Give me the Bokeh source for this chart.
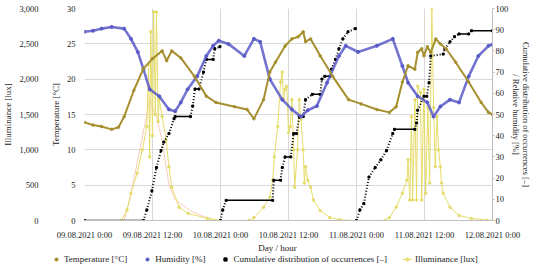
import numpy as np
from bokeh.plotting import figure
from bokeh.layouts import column
from bokeh.models import Range1d, LinearAxis, FixedTicker, Legend, LegendItem, NumeralTickFormatter, Label
from bokeh.embed import file_html
from bokeh.resources import INLINE

nan = float("nan")

# ---- data (time in hours from 09.08.2021 0:00) ----
x_ticks = [0, 12, 24, 36, 48, 60, 72]
x_tick_labels = ["09.08.2021 0:00", "09.08.2021 12:00", "10.08.2021 0:00", "10.08.2021 12:00",
                 "11.08.2021 0:00", "11.08.2021 12:00", "12.08.2021 0:00"]

temp_t = [0, 1.5, 3, 4.8, 6, 7, 8.7, 10.4, 12, 13.7, 14.5, 15.4, 17, 19.4, 21.5, 23.2, 26.5, 28.7,
          29.9, 31.6, 32.7, 33.7, 35.4, 36.6, 37.7, 38.6, 39, 39.9, 41.6, 43.8, 46.6, 48.8, 51.6,
          53.8, 55, 56.1, 57.1, 58.3, 58.8, 59.5, 59.9, 60.5, 61.1, 62, 62.8, 63.8, 65.5, 67.8,
          70, 71.3, 72]
temp_v = [13.9, 13.5, 13.3, 12.9, 13.2, 14.7, 18.4, 21.5, 22.9, 24.0, 22.6, 24.0, 23.0, 20.4,
          17.6, 16.7, 16.1, 15.7, 14.4, 17.1, 21.0, 22.4, 24.7, 25.7, 26.0, 26.7, 25.3, 25.7,
          23.3, 20.4, 17.1, 16.5, 15.7, 15.3, 16.1, 19.6, 21.9, 21.4, 23.8, 24.3, 23.3, 24.6,
          23.8, 25.7, 25.0, 24.3, 22.4, 19.6, 16.7, 15.3, 15.0]

hum_t = [0, 1.5, 3, 4.8, 7, 8.2, 9.4, 10.4, 11.5, 13.2, 14.9, 16, 17, 18.2, 19.9, 21.5, 22.7,
         23.7, 25.4, 28.2, 29.9, 31, 32.7, 34.9, 36.6, 38.2, 39.4, 41, 42.8, 44.9, 46.1, 48.3,
         51.6, 54.4, 56.1, 57.1, 58.8, 60.5, 61.6, 62.8, 64.5, 66.1, 67.8, 69.5, 71.3, 72]
hum_v = [89, 89.5, 90.5, 91.3, 90.5, 85.7, 79.5, 71.4, 61.9, 58.6, 52.4, 51.5, 55.7, 61.9, 68.1,
         77.6, 82.4, 84.8, 83.3, 77.6, 85.7, 84.3, 66.7, 57, 52.4, 49, 52, 54, 65, 77.6, 82.4,
         79.5, 82.4, 85.7, 72.9, 65, 58.6, 55.7, 49, 53.8, 57, 55.7, 68, 77.6, 82.4, 83]

cum_t = [0, 10.4, 11, 11.9, 12.7, 13.5, 14, 14.9, 15.8, 16, 18.7, 19.1, 19.5, 20.2, 21, 21.5,
         22.7, 23, 23.9, nan,
         24, 24.4, 25, 33.2, 33.4, 34.6, 34.9, 35.4, 36.4, 36.9, 37.4, 37.9, 38.6, 39, 40.2,
         41.6, 41.9, 42.4, 43.3, 43.6, 44.3, 44.9, 45.6, 46.5, 47.8, nan,
         48, 48.6, 49.3, 50.2, 51.3, 52.3, 53.3, 54.4, 54.7, 58.3, 58.6, 58.8, 59.9, 60.4, 60.8,
         61.1, 63.3, 63.6, 64.5, 65.3, 66.1, 67.8, 68.3, 72]
cum_v = [0, 0, 5, 14, 25, 33, 37, 41, 48, 49, 49, 54, 62, 62, 70, 76, 76, 81, 82, nan,
         0, 5, 9.5, 9.5, 19, 19, 25, 30, 30, 41, 41, 49, 49, 57, 59.5, 59.5, 66.7, 68, 68, 71.4,
         76, 81, 85.7, 89, 90.5, nan,
         0, 5, 8, 20.5, 25, 28.6, 33, 41, 43, 43, 46, 52, 58.6, 58.6, 65, 77.6, 78.5, 81, 84.3,
         86.7, 88, 88, 89.5, 89.5]

ill_t = [0, 6.5, 7.5, 8.2, 9.3, 10.2, 11, 11.3, 11.5, 11.7, 12, 12.2, 12.5, 12.7, 13, 13.2,
         13.7, 14.4, 14.9, 15.4, 16.7, 18.3, 21.7, 24,
         29, 29.9, 31.6, 32.7, 33.2, 33.5, 34.1, 34.6, 34.9, 35.1, 35.4, 35.7, 36, 36.3, 36.6,
         36.9, 37.1, 37.6, 37.9, 38.2, 38.6, 38.8, 39, 39.4, 39.9, 40.4, 41.6, 43.3, 45, 48,
         53, 53.8, 55, 56.1, 56.9, 57.1, 57.4, 57.7, 57.9, 58.3, 58.6, 58.8, 59.3, 59.5, 59.9,
         60.2, 60.6, 60.9, 61.3, 61.6, 61.9, 62.2, 62.5, 62.8, 63, 63.3, 64.5, 66.1, 68.3, 71, 72]
ill_v = [0, 0, 150, 386, 671, 1000, 1330, 2200, 900, 2670, 1200, 2950, 1500, 2950, 1400, 1714,
         1470, 1140, 760, 470, 186, 100, 30, 0,
         0, 40, 186, 330, 570, 900, 1330, 1960, 2100, 1710, 1860, 1900, 1240, 1330, 1710, 1000,
         470, 1000, 1710, 1430, 1000, 530, 760, 570, 470, 290, 140, 40, 10, 0,
         0, 40, 190, 386, 570, 860, 290, 1470, 290, 1710, 290, 1900, 1810, 290, 1860, 386,
         1600, 530, 3000, 1600, 760, 1470, 1000, 760, 530, 386, 186, 70, 30, 5, 0]

ill2_t = [7, 8, 9, 10, 11, 11.5, 12.7, 13.7, 14.4, 15, 16, 18.7, 21.5, 23]
ill2_v = [0, 300, 700, 1100, 1500, 1700, 1470, 1140, 760, 470, 290, 140, 40, 0]

legend_labels = ["Temperature [°C]", "Humidity [%]",
                 "Cumulative distribution of occurrences [–]", "Illuminance [lux]"]

FONT = "Liberation Serif"
GRID = "#d9d9d9"
C_TEMP = "#a68f2e"
C_HUM = "#5b5bc8"
C_CUM = "#000000"
C_ILL = "#e6dc6a"

p = figure(width=534, height=242, output_backend="svg", toolbar_location=None,
           x_range=Range1d(0, 72), y_range=Range1d(0, 30),
           min_border_left=63, min_border_right=38, min_border_top=8, min_border_bottom=16)
p.extra_y_ranges = {"ill": Range1d(0, 3000), "pct": Range1d(0, 100)}
p.outline_line_color = None
p.background_fill_color = "white"

# axes
xa = p.xaxis[0]
xa.ticker = FixedTicker(ticks=x_ticks)
xa.major_label_overrides = {t: l for t, l in zip(x_ticks, x_tick_labels)}

ta = p.yaxis[0]
ta.ticker = FixedTicker(ticks=[0, 5, 10, 15, 20, 25, 30])
ta.axis_label = "Temperature [°C]"

ia = LinearAxis(y_range_name="ill", axis_label="Illuminance [lux]")
ia.ticker = FixedTicker(ticks=[0, 500, 1000, 1500, 2000, 2500, 3000])
ia.formatter = NumeralTickFormatter(format="0,0")
p.add_layout(ia, "left")

ra = LinearAxis(y_range_name="pct",
                axis_label="Cumulative distribution of occurrences [–]\n/ Relative humidity [%]")
ra.ticker = FixedTicker(ticks=list(range(0, 101, 10)))
p.add_layout(ra, "right")

for ax in [xa, ta, ia, ra]:
    ax.major_label_text_font = FONT
    ax.major_label_text_font_size = "8.5px"
    ax.major_label_text_color = "#222222"
    ax.axis_label_text_font = FONT
    ax.axis_label_text_font_size = "9px"
    ax.axis_label_text_font_style = "normal"
    ax.axis_label_text_color = "#222222"
    ax.minor_tick_line_color = None
    ax.major_label_standoff = 3
    ax.axis_label_standoff = 3
for ax in [ta, ia]:
    ax.axis_line_color = None
    ax.major_tick_line_color = None
xa.axis_line_color = "#bfbfbf"
xa.major_tick_line_color = None
xa.major_label_standoff = 3
ra.axis_line_color = "#bfbfbf"
ra.major_tick_line_color = "#bfbfbf"
ra.major_tick_in = 0
ra.major_tick_out = 2
ra.major_label_standoff = 1
ra.axis_label_standoff = 0
ra.axis_label_text_font_size = "8.5px"
ra.axis_label_text_line_height = 1.0

p.xgrid.ticker = FixedTicker(ticks=x_ticks)
p.ygrid.ticker = FixedTicker(ticks=[0, 5, 10, 15, 20, 25, 30])
p.xgrid.grid_line_color = GRID
p.ygrid.grid_line_color = GRID

# illuminance
p.line(ill2_t, ill2_v, y_range_name="ill", color="#f6b8a0", line_width=1, alpha=0.7)
p.line(ill_t, ill_v, y_range_name="ill", color=C_ILL, line_width=1)
p.scatter(ill_t, ill_v, y_range_name="ill", color=C_ILL, size=2.5, marker="circle")

# cumulative: solid flat parts, dotted rising parts
flat_xs, flat_ys, rise_xs, rise_ys = [], [], [], []
for i in range(len(cum_t) - 1):
    a, b = cum_t[i], cum_t[i + 1]
    va, vb = cum_v[i], cum_v[i + 1]
    if any(np.isnan([a, b, va, vb])):
        continue
    if va == vb:
        flat_xs.append([a, b]); flat_ys.append([va, vb])
    else:
        rise_xs.append([a, b]); rise_ys.append([va, vb])
p.multi_line(flat_xs, flat_ys, y_range_name="pct", color=C_CUM, line_width=1.5)
p.multi_line(rise_xs, rise_ys, y_range_name="pct", color=C_CUM, line_width=2, line_dash="1 2")
p.scatter(cum_t, cum_v, y_range_name="pct", color=C_CUM, size=2, marker="square")

# humidity
p.line(hum_t, hum_v, y_range_name="pct", color=C_HUM, line_width=2.6, alpha=0.85)
p.scatter(hum_t, hum_v, y_range_name="pct", color=C_HUM, size=3, marker="circle")

# temperature
p.line(temp_t, temp_v, color=C_TEMP, line_width=2)
p.scatter(temp_t, temp_v, color=C_TEMP, size=2.5, marker="circle")

# ---- x-axis title + legend strip (separate small figure) ----
lg = figure(width=534, height=24, output_backend="svg", toolbar_location=None,
            x_range=Range1d(0, 1), y_range=Range1d(0, 1),
            x_axis_type=None, y_axis_type=None,
            min_border_left=0, min_border_right=0, min_border_top=0, min_border_bottom=0)
lg.grid.visible = False
lg.outline_line_color = None
try:
    lg.frame_align = False
    p.frame_align = False
except Exception:
    pass
# legend swatches: single points placed outside the visible range
r_t = lg.scatter([-5], [-5], color=C_TEMP, size=2.5, marker="circle")
r_h = lg.scatter([-5], [-5], color=C_HUM, size=3, marker="circle")
r_c = lg.scatter([-5], [-5], color=C_CUM, size=2.5, marker="square")
r_il = lg.line([-5, -6], [-5, -6], color=C_ILL, line_width=1)
r_is = lg.scatter([-5], [-5], color=C_ILL, size=2.5, marker="circle")

lg.add_layout(Label(x=277, y=19, x_units="screen", y_units="screen", text="Day / hour",
                    text_align="center", text_baseline="middle", text_font=FONT,
                    text_font_size="9px", text_color="#222222"))

legend = Legend(items=[
    LegendItem(label=legend_labels[0], renderers=[r_t]),
    LegendItem(label=legend_labels[1], renderers=[r_h]),
    LegendItem(label=legend_labels[2], renderers=[r_c]),
    LegendItem(label=legend_labels[3], renderers=[r_il, r_is]),
], orientation="horizontal", location=(51, 2), border_line_color=None,
    background_fill_alpha=0, glyph_width=10, glyph_height=8, label_standoff=3,
    spacing=15, padding=0, margin=0, label_text_font=FONT, label_text_font_size="9px",
    label_text_color="#222222", label_height=9)
lg.add_layout(legend, "center")

layout = column(p, lg, spacing=0)
open("out.html", "w").write(file_html(layout, INLINE))
